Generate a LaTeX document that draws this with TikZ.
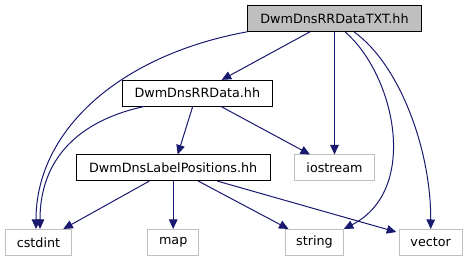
\documentclass[tikz,border=0pt]{standalone}
\usepackage{fontspec}
\setmainfont{DejaVu Sans}
\usetikzlibrary{arrows.meta}
\definecolor{edgeblue}{HTML}{191970}
\definecolor{greyb}{HTML}{BFBFBF}
\begin{document}
\begin{tikzpicture}[x=1pt,y=-1pt,
  box/.style={draw=black,text=black,line width=0.9pt,rectangle,inner sep=0pt,minimum height=25.7pt,font=\fontsize{12.75}{15}\selectfont},
  ext/.style={box,draw=greyb,text=black},
  cur/.style={box,fill=greyb},
  edge/.style={draw=edgeblue,line width=1pt,-{Triangle[length=9.5pt,width=8.5pt]}}]
\useasboundingbox (0,0) rectangle (467,261);
\node[cur,minimum width=173.6pt] (txt) at (334.5,18.5) {DwmDnsRRDataTXT.hh};
\node[box,minimum width=150.7pt] (rr) at (197.3,93.2) {DwmDnsRRData.hh};
\node[box,minimum width=194.3pt] (lp) at (173.2,167.8) {DwmDnsLabelPositions.hh};
\node[ext,minimum width=80.3pt] (io) at (334.5,167.8) {iostream};
\node[ext,minimum width=66.3pt] (cs) at (38.5,242.3) {cstdint};
\node[ext,minimum width=51pt] (map) at (173.2,242.3) {map};
\node[ext,minimum width=57.7pt] (str) at (314.5,242.3) {string};
\node[ext,minimum width=62.7pt] (vec) at (430.7,242.3) {vector};
\coordinate (vtip) at ([xshift=-2.6pt,yshift=-3pt]vec.north west);
% edges
\draw[edge] ([xshift=-24.5pt]txt.south) -- ([xshift=24.4pt]rr.north);
\draw[edge] (txt.south west) .. controls (120,55) and (36,130) .. ([xshift=-2.5pt]cs.north);
\draw[edge] (txt.south) -- (io.north);
\draw[edge] ([xshift=10.5pt]txt.south) .. controls (395,75) and (420,190) .. (str.north east);
\draw[edge] ([xshift=19.5pt]txt.south) .. controls (400,65) and (431,150) .. (vec.north);
\draw[edge] ([xshift=-53pt]rr.south) .. controls (90,118) and (40,150) .. ([xshift=1.5pt]cs.north);
\draw[edge] ([xshift=-4.6pt]rr.south) -- ([xshift=4.5pt]lp.north);
\draw[edge] ([xshift=23.7pt]rr.south) -- ([xshift=-24.5pt]io.north);
\draw[edge] ([xshift=-23.9pt]lp.south) -- ([xshift=24.8pt]cs.north);
\draw[edge] (lp.south) -- (map.north);
\draw[edge] ([xshift=25.1pt]lp.south) -- ([xshift=-26pt]str.north);
\draw[edge] ([xshift=44.1pt]lp.south) -- (vtip);
\end{tikzpicture}
\end{document}
